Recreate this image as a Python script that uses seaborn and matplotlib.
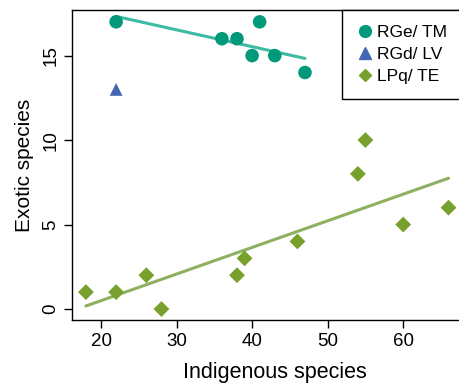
import matplotlib
matplotlib.use("Agg")
import matplotlib.pyplot as plt
import seaborn as sns
import pandas as pd
from matplotlib.lines import Line2D

sns.set_style("ticks")
plt.rcParams['font.family'] = ['Liberation Sans', 'DejaVu Sans']
plt.rcParams['text.color'] = 'black'
plt.rcParams['axes.labelcolor'] = 'black'

# Data
tm_x = [22, 36, 38, 40, 41, 43, 47]
tm_y = [17, 16, 16, 15, 17, 15, 14]
lv_x = [22]
lv_y = [13]
te_x = [18, 22, 26, 28, 38, 39, 46, 54, 55, 60, 66]
te_y = [1, 1, 2, 0, 2, 3, 4, 8, 10, 5, 6]
labels = ["RGe/ TM", "RGd/ LV", "LPq/ TE"]

c_tm, c_tm_line = "#00997a", "#3dbaa2"
c_lv = "#4466b5"
c_te, c_te_line = "#78a02c", "#8fb060"

fig = plt.figure(figsize=(4.6, 3.85), dpi=100)
# axes extends slightly past the right edge of the figure (cropped plot)
ax = fig.add_axes([72/460, 1-320/385, (478-72)/460, 310/385])

df_tm = pd.DataFrame({"x": tm_x, "y": tm_y})
df_lv = pd.DataFrame({"x": lv_x, "y": lv_y})
df_te = pd.DataFrame({"x": te_x, "y": te_y})

sns.regplot(data=df_tm, x="x", y="y", ax=ax, scatter=False, ci=None,
            line_kws=dict(color=c_tm_line, lw=2.2))
sns.regplot(data=df_te, x="x", y="y", ax=ax, scatter=False, ci=None,
            line_kws=dict(color=c_te_line, lw=2.2))
sns.scatterplot(data=df_tm, x="x", y="y", ax=ax, color=c_tm, marker="o", s=95, edgecolor="none", zorder=3)
sns.scatterplot(data=df_lv, x="x", y="y", ax=ax, color=c_lv, marker="^", s=85, edgecolor="none", zorder=3)
sns.scatterplot(data=df_te, x="x", y="y", ax=ax, color=c_te, marker="D", s=65, edgecolor="none", zorder=3)

ax.set_xlim(16.16, 69.9)
ax.set_ylim(-0.65, 17.7)
ax.set_xticks([20, 30, 40, 50, 60])
ax.set_yticks([0, 5, 10, 15])
ax.tick_params(axis='y', labelrotation=90)
for lab in ax.get_yticklabels():
    lab.set_va("center")
ax.tick_params(length=6, width=1, labelsize=13.5, colors="black", direction="out", pad=3)
for s in ["left", "bottom", "top"]:
    ax.spines[s].set_color("black")
    ax.spines[s].set_linewidth(1)
ax.spines["right"].set_visible(False)
ax.set_xlabel("Indigenous species", fontsize=15.5, labelpad=9)
ax.set_ylabel("Exotic species", fontsize=15, labelpad=6)

handles = [
    Line2D([], [], ls="none", marker="o", color=c_tm, markersize=8.5),
    Line2D([], [], ls="none", marker="^", color=c_lv, markersize=8.5),
    Line2D([], [], ls="none", marker="D", color=c_te, markersize=6.5),
]
leg = ax.legend(handles, labels, loc="upper left", bbox_to_anchor=(342/460, 1-10/385),
                bbox_transform=fig.transFigure,
                borderaxespad=0, fancybox=False, framealpha=1, edgecolor="black",
                fontsize=12.5, handletextpad=0.15, labelspacing=0.4, borderpad=0.85,
                handlelength=1.0)
leg.get_frame().set_linewidth(1)

fig.savefig("out.png", dpi=100)
